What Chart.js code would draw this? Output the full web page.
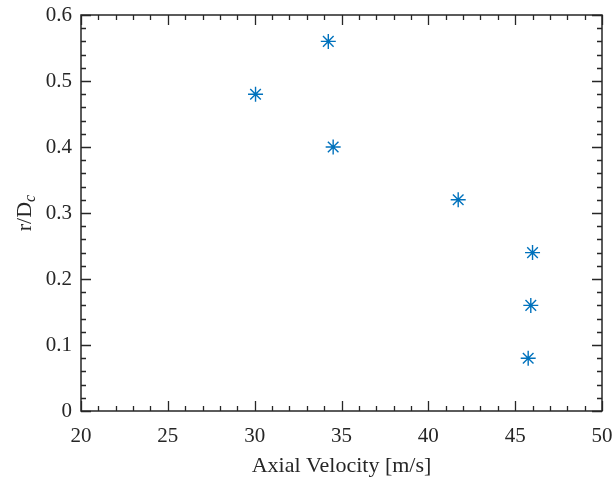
<!DOCTYPE html>
<html>
<head>
<meta charset="utf-8">
<script src="https://cdn.jsdelivr.net/npm/chart.js@4"></script>
<style>
  html, body { margin: 0; padding: 0; background: #fff; }
  #wrap { width: 615px; height: 485px; }
</style>
</head>
<body>
<div id="wrap"><canvas id="chart" width="615" height="485"></canvas></div>
<script>
const axialVelocity = [30.05, 34.24, 34.52, 41.72, 46.0, 45.9, 45.75];
const radiusRatio = [0.48, 0.56, 0.40, 0.32, 0.24, 0.16, 0.08];
const xTicks = [20, 25, 30, 35, 40, 45, 50];
const yTicks = [0, 0.1, 0.2, 0.3, 0.4, 0.5, 0.6];

const axisColor = "#262626";
const markerColor = "#0072BD";
const serif = "'Liberation Serif', 'DejaVu Serif', serif";

// MATLAB-style box with inward major/minor ticks, plus the r/D_c label
const boxTicks = {
  id: "boxTicks",
  afterDraw(chart) {
    const { ctx, chartArea: a, scales } = chart;
    const x = scales.x, y = scales.y;
    ctx.save();
    ctx.strokeStyle = axisColor;
    ctx.lineWidth = 1.3;
    ctx.beginPath();
    for (let v = 20; v <= 50; v += 1) {
      const px = Math.round(x.getPixelForValue(v)) + 0.5;
      const len = v % 5 === 0 ? 10 : 5;
      ctx.moveTo(px, a.bottom); ctx.lineTo(px, a.bottom - len);
      ctx.moveTo(px, a.top); ctx.lineTo(px, a.top + len);
    }
    for (let i = 0; i <= 30; i++) {
      const py = Math.round(y.getPixelForValue(i * 0.02)) + 0.5;
      const len = i % 5 === 0 ? 10 : 5;
      ctx.moveTo(a.left, py); ctx.lineTo(a.left + len, py);
      ctx.moveTo(a.right, py); ctx.lineTo(a.right - len, py);
    }
    ctx.stroke();
    ctx.lineWidth = 1.5;
    ctx.strokeRect(a.left, a.top, a.right - a.left, a.bottom - a.top);

    // y-axis title with subscript
    ctx.translate(24, (a.top + a.bottom) / 2);
    ctx.rotate(-Math.PI / 2);
    ctx.fillStyle = axisColor;
    ctx.textBaseline = "alphabetic";
    const main = "r/D";
    ctx.font = "22px " + serif;
    const w1 = ctx.measureText(main).width;
    ctx.font = "italic 16px " + serif;
    const w2 = ctx.measureText("c").width;
    const start = -(w1 + w2) / 2;
    ctx.font = "22px " + serif;
    ctx.textAlign = "left";
    ctx.fillText(main, start, 7);
    ctx.font = "italic 16px " + serif;
    ctx.fillText("c", start + w1, 11);
    ctx.restore();
  }
};

new Chart(document.getElementById("chart"), {
  type: "scatter",
  data: {
    datasets: [{
      data: axialVelocity.map((v, i) => ({ x: v, y: radiusRatio[i] })),
      pointStyle: "star",
      radius: 7.5,
      borderWidth: 1.4,
      borderColor: markerColor,
      backgroundColor: markerColor,
    }],
  },
  options: {
    responsive: false,
    animation: false,
    layout: { padding: { top: 15, right: 13, left: 0, bottom: 0 } },
    plugins: { legend: { display: false }, tooltip: { enabled: false } },
    scales: {
      x: {
        type: "linear",
        min: 20,
        max: 50,
        afterBuildTicks: (s) => { s.ticks = xTicks.map((v) => ({ value: v })); },
        afterFit: (s) => { s.height = 74; s.paddingLeft = 0; s.paddingRight = 0; },
        grid: { display: false, drawTicks: false },
        border: { display: false },
        ticks: {
          color: axisColor,
          padding: 13,
          font: { family: serif, size: 21 },
          maxRotation: 0,
        },
        title: {
          display: true,
          text: "Axial Velocity [m/s]",
          color: axisColor,
          font: { family: serif, size: 22 },
          padding: { top: 0, bottom: 6 },
        },
      },
      y: {
        type: "linear",
        min: 0,
        max: 0.6,
        afterBuildTicks: (s) => { s.ticks = yTicks.map((v) => ({ value: v })); },
        afterFit: (s) => { s.width = 81; s.paddingTop = 0; s.paddingBottom = 0; },
        grid: { display: false, drawTicks: false },
        border: { display: false },
        ticks: {
          color: axisColor,
          padding: 9,
          font: { family: serif, size: 21 },
          callback: (v) => (v === 0 ? "0" : v.toFixed(1)),
        },
      },
    },
  },
  plugins: [boxTicks],
});
</script>
</body>
</html>
